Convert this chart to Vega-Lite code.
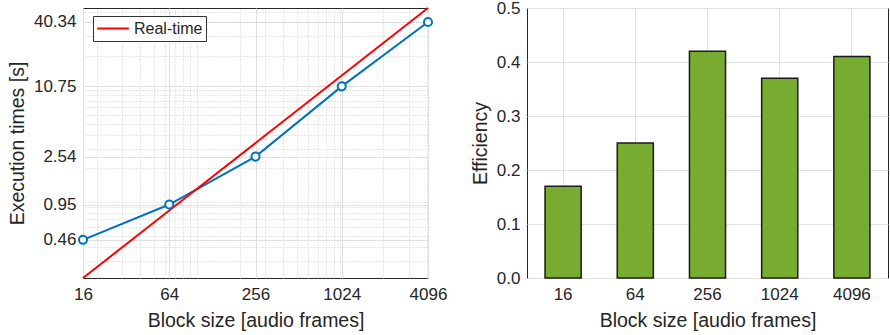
{
  "$schema": "https://vega.github.io/schema/vega-lite/v6.json",
  "padding": {"left": 6, "top": -2, "right": 2, "bottom": 2},
  "spacing": 21,
  "config": {
    "font": "Liberation Sans",
    "view": {"stroke": "#262626", "strokeWidth": 1},
    "axis": {
      "labelFont": "Liberation Sans",
      "titleFont": "Liberation Sans",
      "labelFontSize": 17,
      "titleFontSize": 19.5,
      "titleFontWeight": "normal",
      "labelColor": "#262626",
      "titleColor": "#262626",
      "domain": false,
      "ticks": false,
      "gridColor": "#e0e0e0",
      "gridWidth": 1,
      "labelPadding": 7,
      "titlePadding": 6
    },
    "axisX": {"labelPadding": 8, "titlePadding": 9},
    "legend": {
      "labelFont": "Liberation Sans",
      "labelFontSize": 16,
      "labelColor": "#262626",
      "strokeColor": "#333333",
      "fillColor": "white",
      "padding": 3,
      "labelOffset": 4,
      "symbolType": "stroke",
      "symbolSize": 1000,
      "symbolStrokeWidth": 2,
      "clipHeight": 19,
      "cornerRadius": 0
    }
  },
  "datasets": {
    "exec": [
      {"block": 16, "time": 0.46},
      {"block": 64, "time": 0.95},
      {"block": 256, "time": 2.54},
      {"block": 1024, "time": 10.75},
      {"block": 4096, "time": 40.34}
    ],
    "rt": [
      {"block": 16, "time": 0.21},
      {"block": 64, "time": 0.84},
      {"block": 256, "time": 3.36},
      {"block": 1024, "time": 13.44},
      {"block": 4096, "time": 53.76}
    ],
    "eff": [
      {"block": "16", "efficiency": 0.17},
      {"block": "64", "efficiency": 0.25},
      {"block": "256", "efficiency": 0.42},
      {"block": "1024", "efficiency": 0.37},
      {"block": "4096", "efficiency": 0.41}
    ]
  },
  "hconcat": [
    {
      "width": 345,
      "height": 270,
      "layer": [
        {
          "data": {"name": "exec"},
          "mark": {"type": "line", "color": "#0072BD", "strokeWidth": 2},
          "encoding": {
            "x": {
              "field": "block", "type": "quantitative",
              "scale": {"type": "log", "base": 2, "domain": [16, 4096], "nice": false},
              "axis": {"values": [16, 64, 256, 1024, 4096], "format": "d", "title": "Block size [audio frames]", "grid": true, "labelFlush": false}
            },
            "y": {
              "field": "time", "type": "quantitative",
              "scale": {"type": "log", "domain": [0.21, 53.76], "nice": false},
              "axis": {"values": [0.46, 0.95, 2.54, 10.75, 40.34], "format": ".2f", "title": "Execution times [s]", "grid": true}
            }
          }
        },
        {
          "data": {"name": "rt"},
          "mark": {"type": "line", "strokeWidth": 2},
          "encoding": {
            "x": {
              "field": "block", "type": "quantitative",
              "axis": {"orient": "top", "values": [20, 30, 40, 50, 60, 70, 80, 90, 100, 200, 300, 400, 500, 600, 700, 800, 900, 1000, 2000, 3000, 4000], "labels": false, "title": null, "grid": true, "gridDash": [1, 2], "gridColor": "#cfcfcf"}
            },
            "y": {
              "field": "time", "type": "quantitative",
              "axis": {"orient": "right", "values": [0.3, 0.4, 0.5, 0.6, 0.7, 0.8, 0.9, 1, 2, 3, 4, 5, 6, 7, 8, 9, 10, 20, 30, 40, 50], "labels": false, "title": null, "grid": true, "gridDash": [1, 2], "gridColor": "#cfcfcf"}
            },
            "color": {
              "datum": "Real-time", "type": "nominal",
              "scale": {"range": ["#FF0000"]},
              "legend": {"title": null, "orient": "none", "legendX": 10, "legendY": 8}
            }
          }
        },
        {
          "data": {"name": "exec"},
          "mark": {"type": "point", "filled": false, "fill": "white", "fillOpacity": 1, "stroke": "#0072BD", "strokeWidth": 2, "size": 65, "opacity": 1},
          "encoding": {
            "x": {"field": "block", "type": "quantitative", "axis": null},
            "y": {"field": "time", "type": "quantitative", "axis": null}
          }
        }
      ],
      "resolve": {"axis": {"x": "independent", "y": "independent"}}
    },
    {
      "width": 361,
      "height": 270,
      "data": {"name": "eff"},
      "mark": {"type": "bar", "fill": "#77AC30", "stroke": "#1a1a1a", "strokeWidth": 1.5},
      "encoding": {
        "x": {
          "field": "block", "type": "ordinal", "sort": null,
          "scale": {"paddingInner": 0.5, "paddingOuter": 0.25},
          "axis": {"labelAngle": 0, "title": "Block size [audio frames]", "grid": true, "bandPosition": 0.5}
        },
        "y": {
          "field": "efficiency", "type": "quantitative",
          "scale": {"domain": [0, 0.5], "nice": false},
          "axis": {"values": [0, 0.1, 0.2, 0.3, 0.4, 0.5], "title": "Efficiency", "grid": true}
        }
      }
    }
  ]
}
